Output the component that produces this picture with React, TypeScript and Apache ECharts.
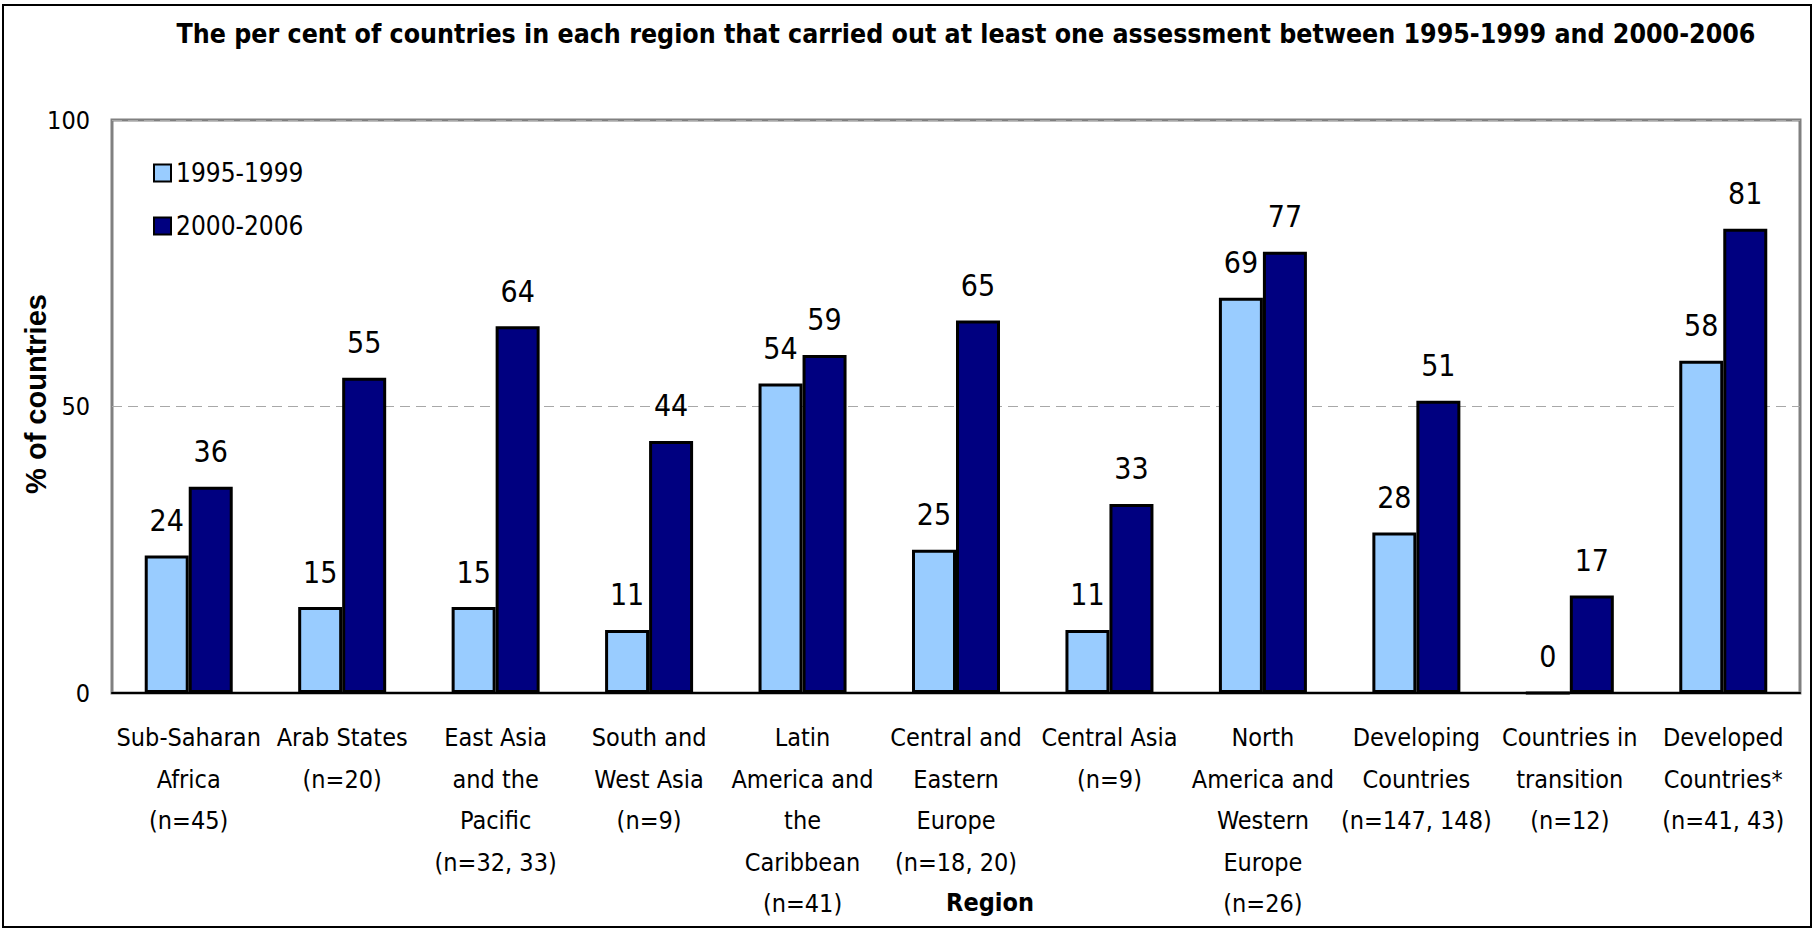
import React, { useEffect, useRef } from "react";
import * as echarts from "echarts";

const categories = [
  "Sub-Saharan\nAfrica\n(n=45)",
  "Arab States\n(n=20)",
  "East Asia\nand the\nPacific\n(n=32, 33)",
  "South and\nWest Asia\n(n=9)",
  "Latin\nAmerica and\nthe\nCaribbean\n(n=41)",
  "Central and\nEastern\nEurope\n(n=18, 20)",
  "Central Asia\n(n=9)",
  "North\nAmerica and\nWestern\nEurope\n(n=26)",
  "Developing\nCountries\n(n=147, 148)",
  "Countries in\ntransition\n(n=12)",
  "Developed\nCountries*\n(n=41, 43)",
];
const series1995 = [24, 15, 15, 11, 54, 25, 11, 69, 28, 0, 58];
const series2000 = [36, 55, 64, 44, 59, 65, 33, 77, 51, 17, 81];
const seriesNames = ["1995-1999", "2000-2006"];
const yTicks = [0, 50, 100];

const NARROW = "'Liberation Sans Narrow', 'Arial Narrow', 'DejaVu Sans Condensed', sans-serif";
const WIDE = "'Liberation Sans', Arial, sans-serif";

export default function App() {
  const ref = useRef<HTMLDivElement>(null);
  useEffect(() => {
    if (!ref.current) return;
    const chart = echarts.init(ref.current, null, { renderer: "svg" });
    const labelCfg = {
      show: true,
      position: "top",
      distance: 20,
      fontSize: 30,
      fontFamily: NARROW,
      color: "#000",
    };
    chart.setOption({
      animation: false,
      backgroundColor: "#fff",
      title: {
        text: "The per cent of countries in each region that carried out at least one assessment between 1995-1999 and 2000-2006",
        left: 961,
        textAlign: "center",
        top: 15,
        textStyle: { fontSize: 26.5, fontWeight: "bold", fontFamily: NARROW, color: "#000" },
      },
      legend: {
        orient: "vertical",
        left: 148,
        top: 155,
        itemWidth: 17,
        itemHeight: 17,
        itemGap: 27,
        icon: "rect",
        textStyle: { fontSize: 26, fontFamily: NARROW, color: "#000" },
        data: seriesNames,
      },
      grid: {
        left: 112,
        top: 120,
        right: 17,
        bottom: 238,
        show: true,
        borderColor: "#808080",
        borderWidth: 3,
        backgroundColor: "transparent",
      },
      xAxis: {
        type: "category",
        data: categories,
        axisLine: { lineStyle: { color: "#000", width: 2 } },
        axisTick: { show: false },
        axisLabel: {
          interval: 0,
          fontSize: 25,
          lineHeight: 41.5,
          fontFamily: NARROW,
          color: "#000",
          margin: 24,
          align: "center",
        },
      },
      yAxis: {
        type: "value",
        min: yTicks[0],
        max: yTicks[yTicks.length - 1],
        interval: 50,
        axisLine: { show: false },
        axisTick: { show: false },
        axisLabel: { fontSize: 25, fontFamily: NARROW, color: "#000", margin: 22 },
        splitLine: { show: true, lineStyle: { color: "#a8a8a8", type: [10, 6], width: 1 } },
      },
      series: [
        {
          name: seriesNames[0],
          type: "bar",
          data: series1995,
          barWidth: 44,
          barGap: "0%",
          itemStyle: { color: "#99CCFF", borderColor: "#000", borderWidth: 3 },
          label: labelCfg,
        },
        {
          name: seriesNames[1],
          type: "bar",
          data: series2000,
          barWidth: 44,
          itemStyle: { color: "#000080", borderColor: "#000", borderWidth: 3 },
          label: labelCfg,
        },
      ],
      graphic: [
        {
          type: "rect",
          shape: { x: 3, y: 5, width: 1808, height: 922 },
          style: { fill: "none", stroke: "#000", lineWidth: 2 },
          silent: true,
        },
        {
          type: "text",
          x: 36,
          y: 394,
          rotation: Math.PI / 2,
          style: {
            text: "% of countries",
            fontSize: 29,
            fontWeight: "bold",
            fontFamily: WIDE,
            fill: "#000",
            align: "center",
            verticalAlign: "middle",
          },
        },
        {
          type: "text",
          x: 990,
          y: 902,
          style: {
            text: "Region",
            fontSize: 25,
            fontWeight: "bold",
            fontFamily: NARROW,
            fill: "#000",
            align: "center",
            verticalAlign: "middle",
          },
        },
      ],
    });
    return () => chart.dispose();
  }, []);
  return (
    <div
      ref={ref}
      style={{ position: "fixed", left: 0, top: 0, width: 1817, height: 931 }}
    />
  );
}
